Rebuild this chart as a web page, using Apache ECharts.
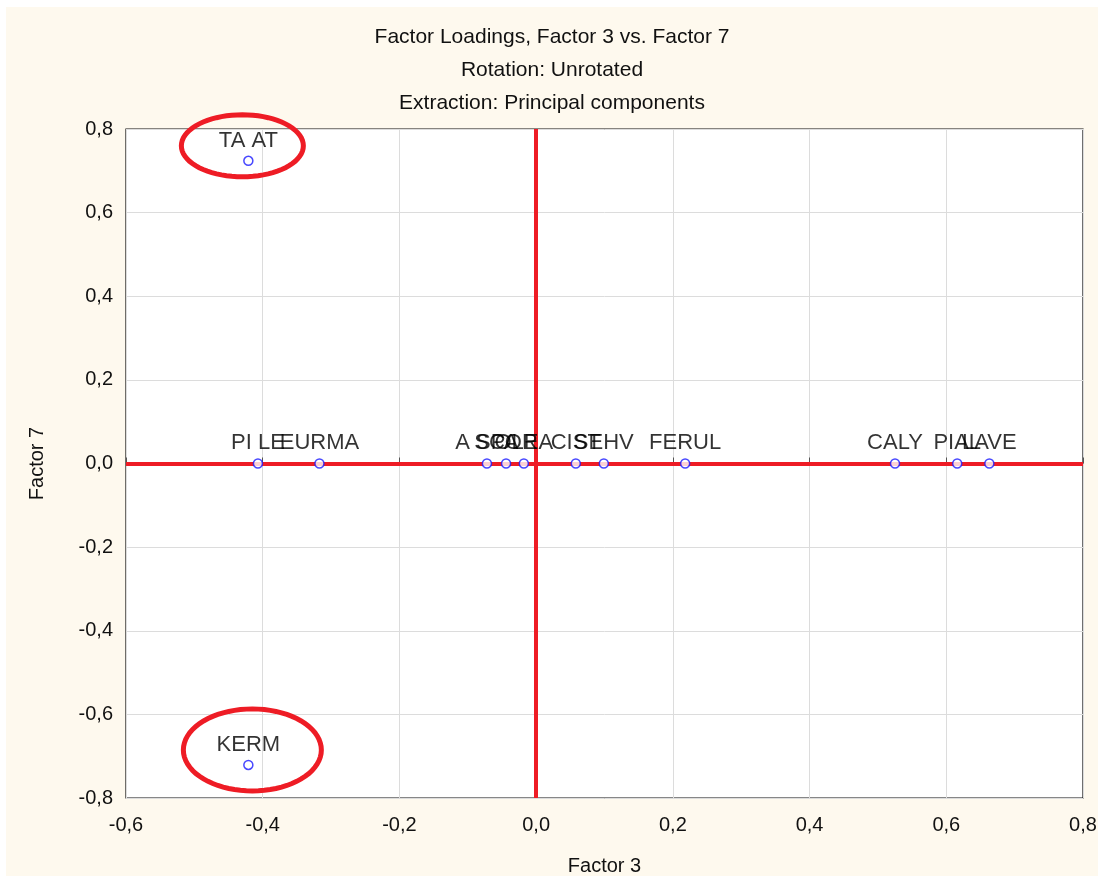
<!DOCTYPE html>
<html>
<head>
<meta charset="utf-8">
<script src="https://cdn.jsdelivr.net/npm/echarts@6/dist/echarts.min.js"></script>
<style>
html,body{margin:0;padding:0;background:#fff;}
#wrap{width:1104px;height:883px;box-sizing:border-box;padding:7px 6px;background:#fff;}
#chart{width:1092px;height:869px;background:#fef9ee;}
</style>
</head>
<body>
<div id="wrap"><div id="chart"></div></div>
<script>
// Variable labels and their loadings
const names   = ['TA AT', 'KERM', 'PI LE', 'EURMA', 'A SPA', 'SCOR', 'OLEA', 'CIST', 'SEHV', 'FERUL', 'CALY', 'PIAL', 'LAVE'];
const factor3 = [-0.421, -0.421, -0.407, -0.317, -0.072, -0.044, -0.018, 0.058, 0.099, 0.218, 0.525, 0.616, 0.663];
const factor7 = [0.724, -0.721, 0.0, 0.0, 0.0, 0.0, 0.0, 0.0, 0.0, 0.0, 0.0, 0.0, 0.0];
// Highlighted (circled) variables
const circled = ['TA AT', 'KERM'];
const titles = ['Factor Loadings, Factor 3 vs. Factor 7', 'Rotation: Unrotated', 'Extraction: Principal components'];

const fmt = v => (Math.abs(v) < 1e-9 ? 0 : v).toFixed(1).replace('.', ',');
const pts = names.map((n, i) => ({ name: n, value: [factor3[i], factor7[i]] }));
const circ = pts.filter(p => circled.includes(p.name));

const chart = echarts.init(document.getElementById('chart'));
const FONT = 'Liberation Sans, Arial, sans-serif';
chart.setOption({
  animation: false,
  backgroundColor: '#fef9ee',
  title: titles.map((t, i) => ({
    text: t, left: 'center', top: 15 + i * 33,
    textStyle: { fontFamily: FONT, fontSize: 21, fontWeight: 'normal', color: '#111' }
  })),
  grid: { left: 120, right: 15, top: 122, bottom: 78, outerBoundsMode: 'none', containLabel: false,
          show: true, backgroundColor: '#ffffff', borderColor: '#111', borderWidth: 1.2 },
  xAxis: {
    type: 'value', min: -0.6, max: 0.8, interval: 0.2,
    name: 'Factor 3', nameLocation: 'middle', nameGap: 58,
    nameTextStyle: { fontFamily: FONT, fontSize: 20, color: '#111' },
    axisLine: { show: false }, axisTick: { show: true, inside: true, length: 6, lineStyle: { color: '#555' } },
    axisLabel: { fontFamily: FONT, fontSize: 20, color: '#111', margin: 17, formatter: fmt },
    splitLine: { show: true, lineStyle: { color: '#dcdcdc', width: 1 } }
  },
  yAxis: {
    type: 'value', min: -0.8, max: 0.8, interval: 0.2,
    name: 'Factor 7', nameLocation: 'middle', nameGap: 79, nameRotate: 90,
    nameTextStyle: { fontFamily: FONT, fontSize: 20, color: '#111' },
    axisLine: { show: false }, axisTick: { show: false },
    axisLabel: { fontFamily: FONT, fontSize: 20, color: '#111', margin: 13, formatter: fmt },
    splitLine: { show: true, lineStyle: { color: '#dcdcdc', width: 1 } }
  },
  series: [
    {
      type: 'scatter', data: pts, z: 3,
      symbol: 'circle', symbolSize: 9,
      itemStyle: { color: '#ffffff', borderColor: '#1a1aff', borderWidth: 1.5 },
      label: { show: true, position: 'top', distance: 4, formatter: p => p.name,
               fontFamily: FONT, fontSize: 22, color: '#000' },
      markLine: {
        silent: true, symbol: 'none', z: 2,
        lineStyle: { color: '#ee1c25', width: 4, type: 'solid' },
        label: { show: false },
        data: [{ xAxis: 0 }, { yAxis: 0 }]
      }
    },
    {
      type: 'custom', data: circ.map(p => p.value), z: 4, silent: true,
      renderItem: function (params, api) {
        const c = api.coord([api.value(0), api.value(1)]);
        const up = api.value(1) > 0;
        const cx = c[0] + (up ? -6 : 4);
        const cy = c[1] - 15;
        const rx = up ? 61 : 69;
        const ry = up ? 31 : 41;
        const poly = [];
        for (let k = 0; k < 72; k++) {
          const a = k / 72 * Math.PI * 2;
          poly.push([cx + rx * Math.cos(a), cy + ry * Math.sin(a)]);
        }
        return { type: 'polygon', shape: { points: poly },
                 style: { fill: 'none', stroke: '#ee1c25', lineWidth: 5 } };
      }
    }
  ]
});
</script>
</body>
</html>
